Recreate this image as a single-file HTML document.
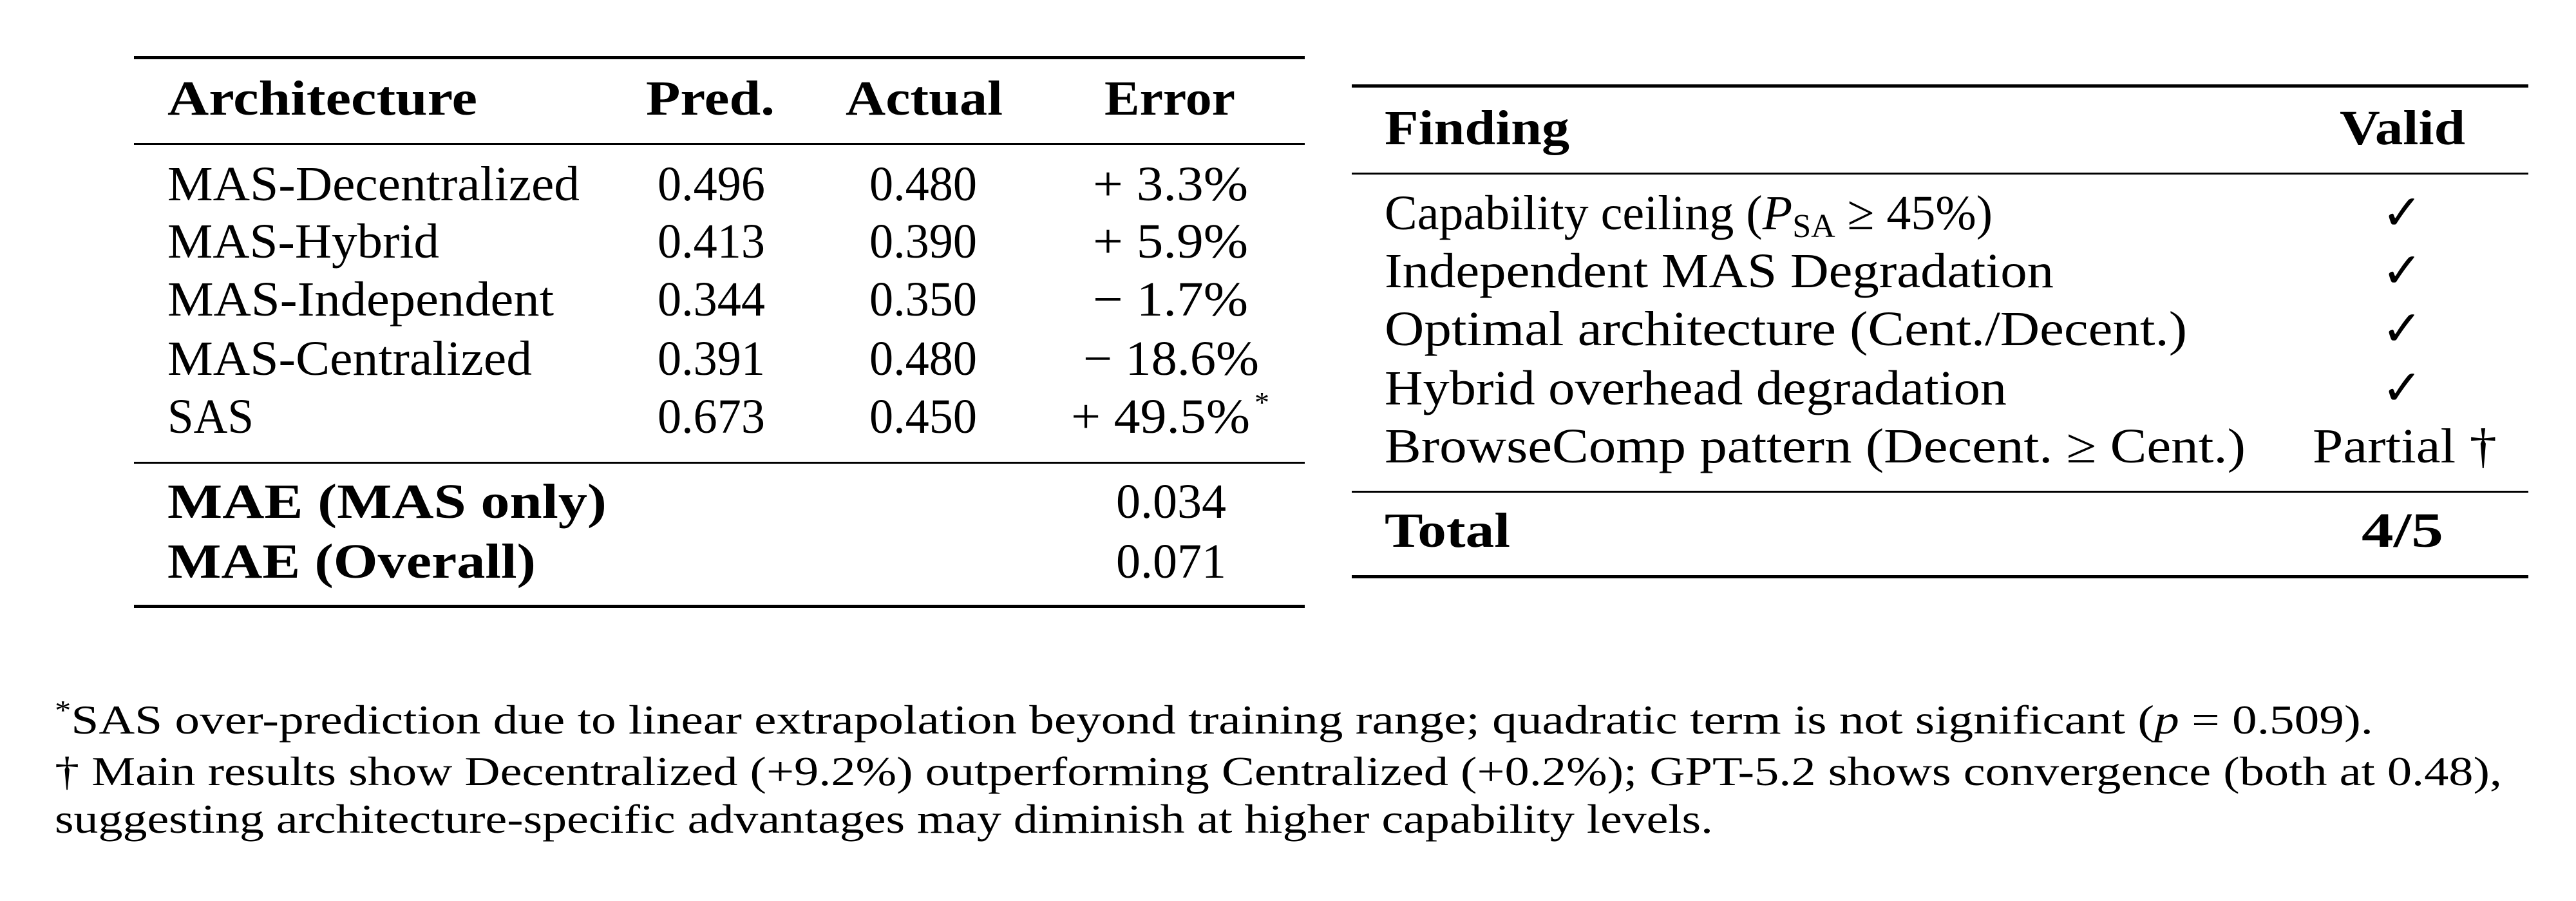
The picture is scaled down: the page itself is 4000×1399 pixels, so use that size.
<!DOCTYPE html>
<html><head><meta charset="utf-8"><style>
html,body{margin:0;padding:0;background:#fff;}
svg{display:block;}
text{font-family:"Liberation Serif",serif;fill:#000;}
.r{font-size:76px;}
.b{font-size:76px;font-weight:bold;}
.f{font-size:64px;}
</style></head><body>
<svg width="4000" height="1399" viewBox="0 0 4000 1399" xmlns="http://www.w3.org/2000/svg">
<rect width="4000" height="1399" fill="#fff"/>
<!-- left table -->
<rect x="208" y="87" width="1818" height="5" fill="#000"/>
<rect x="208" y="222" width="1818" height="3" fill="#000"/>
<rect x="208" y="717" width="1818" height="3" fill="#000"/>
<rect x="208" y="939" width="1818" height="5" fill="#000"/>
<g lengthAdjust="spacingAndGlyphs">
<text class="b" x="260" y="178" textLength="481" lengthAdjust="spacingAndGlyphs">Architecture</text>
<text class="b" x="1003" y="178" textLength="200" lengthAdjust="spacingAndGlyphs">Pred.</text>
<text class="b" x="1313" y="178" textLength="244" lengthAdjust="spacingAndGlyphs">Actual</text>
<text class="b" x="1715" y="178" textLength="203" lengthAdjust="spacingAndGlyphs">Error</text>

<text class="r" x="260" y="311" textLength="640" lengthAdjust="spacingAndGlyphs">MAS-Decentralized</text>
<text class="r" x="260" y="400" textLength="422" lengthAdjust="spacingAndGlyphs">MAS-Hybrid</text>
<text class="r" x="260" y="490" textLength="600" lengthAdjust="spacingAndGlyphs">MAS-Independent</text>
<text class="r" x="260" y="582" textLength="566" lengthAdjust="spacingAndGlyphs">MAS-Centralized</text>
<text class="r" x="260" y="672" textLength="134" lengthAdjust="spacingAndGlyphs">SAS</text>

<text class="r" x="1021" y="311" textLength="167" lengthAdjust="spacingAndGlyphs">0.496</text>
<text class="r" x="1021" y="400" textLength="167" lengthAdjust="spacingAndGlyphs">0.413</text>
<text class="r" x="1021" y="490" textLength="167" lengthAdjust="spacingAndGlyphs">0.344</text>
<text class="r" x="1021" y="582" textLength="167" lengthAdjust="spacingAndGlyphs">0.391</text>
<text class="r" x="1021" y="672" textLength="167" lengthAdjust="spacingAndGlyphs">0.673</text>

<text class="r" x="1350" y="311" textLength="167" lengthAdjust="spacingAndGlyphs">0.480</text>
<text class="r" x="1350" y="400" textLength="167" lengthAdjust="spacingAndGlyphs">0.390</text>
<text class="r" x="1350" y="490" textLength="167" lengthAdjust="spacingAndGlyphs">0.350</text>
<text class="r" x="1350" y="582" textLength="167" lengthAdjust="spacingAndGlyphs">0.480</text>
<text class="r" x="1350" y="672" textLength="167" lengthAdjust="spacingAndGlyphs">0.450</text>

<text class="r" x="1697" y="311" textLength="241" lengthAdjust="spacingAndGlyphs">+ 3.3%</text>
<text class="r" x="1697" y="400" textLength="241" lengthAdjust="spacingAndGlyphs">+ 5.9%</text>
<text class="r" x="1697" y="490" textLength="241" lengthAdjust="spacingAndGlyphs">− 1.7%</text>
<text class="r" x="1682" y="582" textLength="273" lengthAdjust="spacingAndGlyphs">− 18.6%</text>
<text class="r" x="1663" y="672" textLength="278" lengthAdjust="spacingAndGlyphs">+ 49.5%</text>
<text x="1948" y="640" style="font-size:46px">*</text>

<text class="b" x="260" y="804" textLength="682" lengthAdjust="spacingAndGlyphs">MAE (MAS only)</text>
<text class="b" x="260" y="897" textLength="572" lengthAdjust="spacingAndGlyphs">MAE (Overall)</text>
<text class="r" x="1733" y="804" textLength="171" lengthAdjust="spacingAndGlyphs">0.034</text>
<text class="r" x="1733" y="897" textLength="171" lengthAdjust="spacingAndGlyphs">0.071</text>
</g>

<!-- right table -->
<rect x="2099" y="131" width="1827" height="5" fill="#000"/>
<rect x="2099" y="268" width="1827" height="3" fill="#000"/>
<rect x="2099" y="762" width="1827" height="3" fill="#000"/>
<rect x="2099" y="893" width="1827" height="5" fill="#000"/>
<text class="b" x="2150" y="224" textLength="287" lengthAdjust="spacingAndGlyphs">Finding</text>
<text class="b" x="3633" y="224" textLength="195" lengthAdjust="spacingAndGlyphs">Valid</text>

<text class="r" x="2150" y="356">Capability ceiling (<tspan font-style="italic">P</tspan><tspan font-size="52" dy="12">SA</tspan><tspan dy="-12"> ≥ 45%)</tspan></text>
<text class="r" x="2150" y="446" textLength="1039" lengthAdjust="spacingAndGlyphs">Independent MAS Degradation</text>
<text class="r" x="2150" y="536" textLength="1246" lengthAdjust="spacingAndGlyphs">Optimal architecture (Cent./Decent.)</text>
<text class="r" x="2150" y="628" textLength="966" lengthAdjust="spacingAndGlyphs">Hybrid overhead degradation</text>
<text class="r" x="2150" y="718" textLength="1337" lengthAdjust="spacingAndGlyphs">BrowseComp pattern (Decent. ≥ Cent.)</text>
<text class="b" x="2150" y="849" textLength="195" lengthAdjust="spacingAndGlyphs">Total</text>

<g font-size="80" text-anchor="middle">
<text x="3730" y="356" style="font-family:'DejaVu Sans',sans-serif;font-size:76px">✓</text>
<text x="3730" y="446" style="font-family:'DejaVu Sans',sans-serif;font-size:76px">✓</text>
<text x="3730" y="536" style="font-family:'DejaVu Sans',sans-serif;font-size:76px">✓</text>
<text x="3730" y="628" style="font-family:'DejaVu Sans',sans-serif;font-size:76px">✓</text>
</g>
<text class="r" x="3591" y="718" textLength="286" lengthAdjust="spacingAndGlyphs">Partial †</text>
<text class="b" x="3667" y="849" textLength="127" lengthAdjust="spacingAndGlyphs">4/5</text>

<!-- footnotes -->
<text class="f" x="85" y="1139" textLength="3600" lengthAdjust="spacingAndGlyphs"><tspan font-size="42" dy="-22">*</tspan><tspan dy="22">SAS over-prediction due to linear extrapolation beyond training range; quadratic term is not significant (</tspan><tspan font-style="italic">p</tspan> = 0.509).</text>
<text class="f" x="85" y="1219" textLength="3800" lengthAdjust="spacingAndGlyphs">† Main results show Decentralized (+9.2%) outperforming Centralized (+0.2%); GPT-5.2 shows convergence (both at 0.48),</text>
<text class="f" x="85" y="1293" textLength="2575" lengthAdjust="spacingAndGlyphs">suggesting architecture-specific advantages may diminish at higher capability levels.</text>
</svg>
</body></html>
